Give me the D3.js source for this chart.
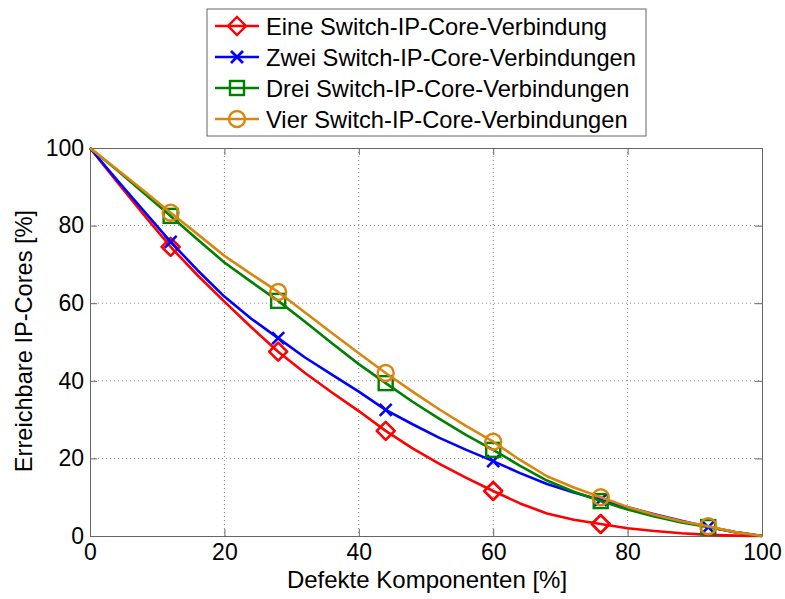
<!DOCTYPE html>
<meta charset="utf-8">
<style>
body { margin: 0; background: #fff; font-family: "Liberation Sans", Arial, Helvetica, sans-serif; }
.grid line { stroke: #888; stroke-width: 1; stroke-dasharray: 1,3; }
.axis path, .axis line { stroke: #666; }
.axis text { font-size: 23px; fill: #000; font-family: "Liberation Sans", Arial, sans-serif; }
.series path { fill: none; stroke-width: 2.6; stroke-linejoin: round; }
.legend text { font-size: 23.7px; }
</style>
<svg width="785" height="599"></svg>
<script src="https://d3js.org/d3.v7.min.js"></script>
<script>

// defect percentage samples
var defekt = [0, 4, 8, 12, 16, 20, 24, 28, 32, 36, 40, 44, 48, 52, 56, 60, 64, 68, 72, 76, 80, 84, 88, 92, 96, 100];

var eine  = [100, 91.3, 82.8, 74.5, 67.2, 60.4, 53.8, 47.5, 42.0, 37.0, 32.2, 27.1, 22.6, 18.6, 15.0, 11.6, 8.4, 5.8, 4.2, 3.1, 2.0, 1.3, 0.7, 0.3, 0.1, 0];
var zwei  = [100, 91.8, 83.8, 75.8, 68.5, 61.7, 56.0, 51.0, 46.0, 41.6, 37.2, 32.5, 28.8, 25.3, 22.2, 19.3, 16.2, 13.4, 11.2, 9.3, 7.4, 5.6, 3.9, 2.3, 1.0, 0];
var drei  = [100, 94.3, 88.4, 82.5, 76.4, 70.5, 65.5, 60.6, 55.2, 49.7, 44.3, 39.4, 34.6, 30.2, 26.0, 22.2, 18.1, 14.3, 11.4, 9.0, 6.8, 5.0, 3.5, 2.3, 1.0, 0];
var vier  = [100, 94.5, 89.0, 83.3, 77.8, 72.2, 67.5, 62.9, 57.6, 52.3, 47.1, 42.0, 37.2, 32.6, 28.3, 24.3, 19.6, 15.4, 12.5, 10.0, 7.5, 5.5, 3.8, 2.5, 1.0, 0];

// x positions carrying a marker
var markerXEine = [12, 28, 44, 60, 76];
var markerX     = [12, 28, 44, 60, 76, 92];

var labels = ["Eine Switch-IP-Core-Verbindung", "Zwei Switch-IP-Core-Verbindungen",
              "Drei Switch-IP-Core-Verbindungen", "Vier Switch-IP-Core-Verbindungen"];
var colors = ["#ff0000", "#0000ff", "#008000", "#d9860f"];
var symbols = ["diamond", "cross", "square", "circle"];

var xTicks = [0, 20, 40, 60, 80, 100];
var yTicks = [0, 20, 40, 60, 80, 100];

var series = [
  {name: labels[0], values: eine, markers: markerXEine, color: colors[0], sym: symbols[0]},
  {name: labels[1], values: zwei, markers: markerX, color: colors[1], sym: symbols[1]},
  {name: labels[2], values: drei, markers: markerX, color: colors[2], sym: symbols[2]},
  {name: labels[3], values: vier, markers: markerX, color: colors[3], sym: symbols[3]}
];

var svg = d3.select("svg"),
    margin = {top: 148, right: 23, bottom: 63, left: 90},
    width = +svg.attr("width") - margin.left - margin.right,
    height = +svg.attr("height") - margin.top - margin.bottom;

var x = d3.scaleLinear().domain([0, 100]).range([0, width]);
var y = d3.scaleLinear().domain([0, 100]).range([height, 0]);

var g = svg.append("g")
    .attr("transform", "translate(" + margin.left + "," + margin.top + ")");

// dotted grid
g.append("g").attr("class", "grid")
  .selectAll("line").data(xTicks.slice(1, -1)).enter().append("line")
  .attr("x1", d => x(d)).attr("x2", d => x(d)).attr("y1", 0).attr("y2", height);
g.append("g").attr("class", "grid")
  .selectAll("line").data(yTicks.slice(1, -1)).enter().append("line")
  .attr("y1", d => y(d)).attr("y2", d => y(d)).attr("x1", 0).attr("x2", width);

// axes (ticks pointing inward like matlab)
g.append("g").attr("class", "axis")
  .attr("transform", "translate(0," + height + ")")
  .call(d3.axisBottom(x).tickValues(xTicks).tickSizeInner(-7).tickSizeOuter(0).tickPadding(8));
g.append("g").attr("class", "axis")
  .call(d3.axisLeft(y).tickValues(yTicks).tickSizeInner(-7).tickSizeOuter(0).tickPadding(6));
g.append("g").attr("class", "axis")
  .attr("transform", "translate(" + width + ",0)")
  .call(d3.axisRight(y).tickValues(yTicks).tickSizeInner(-7).tickSizeOuter(0).tickFormat(""));
g.append("g").attr("class", "axis")
  .call(d3.axisTop(x).tickValues(xTicks).tickSizeInner(-7).tickSizeOuter(0).tickFormat(""));

svg.selectAll(".axis .domain").attr("stroke", "#666");

// axis labels
svg.append("text")
  .attr("x", margin.left + width / 2 + 1)
  .attr("y", 588)
  .attr("text-anchor", "middle")
  .style("font-size", "24px")
  .text("Defekte Komponenten [%]");

svg.append("text")
  .attr("transform", "translate(32," + (margin.top + height / 2 - 1) + ") rotate(-90)")
  .attr("text-anchor", "middle")
  .style("font-size", "23.6px")
  .text("Erreichbare IP-Cores [%]");

var line = d3.line()
  .x(function(d, i) { return x(defekt[i]); })
  .y(function(d) { return y(d); });

function drawMarker(sel, sym, color) {
  sel.attr("fill", "none").attr("stroke", color).attr("stroke-width", 2.4);
  if (sym == "diamond") {
    sel.append("path").attr("d", "M0,-9L9,0L0,9L-9,0Z");
  } else if (sym == "cross") {
    sel.append("path").attr("d", "M-6,-6L6,6M-6,6L6,-6").attr("stroke-width", 2.8);
  } else if (sym == "square") {
    sel.append("rect").attr("x", -7).attr("y", -7).attr("width", 14).attr("height", 14);
  } else {
    sel.append("circle").attr("r", 8);
  }
}

series.forEach(function(s) {
  var gs = g.append("g").attr("class", "series");
  gs.append("path").datum(s.values).attr("d", line).attr("stroke", s.color);
  gs.selectAll("g.mk")
    .data(s.markers)
    .enter().append("g").attr("class", "mk")
    .attr("transform", function(d) {
      var v = s.values[defekt.indexOf(d)];
      return "translate(" + x(d) + "," + y(v) + ")";
    })
    .each(function() { drawMarker(d3.select(this), s.sym, s.color); });
});

// legend
var lg = svg.append("g").attr("class", "legend").attr("transform", "translate(207,9)");
lg.append("rect").attr("width", 439).attr("height", 127)
  .attr("fill", "#fff").attr("stroke", "#666").attr("stroke-width", 1);

var item = lg.selectAll("g.item").data(series).enter().append("g")
  .attr("class", "item")
  .attr("transform", function(d, i) { return "translate(0," + (17 + i * 31) + ")"; });

item.append("line").attr("x1", 8).attr("x2", 52).attr("y1", 0).attr("y2", 0)
  .attr("stroke", d => d.color).attr("stroke-width", 2.6);
item.append("g").attr("transform", "translate(30,0)")
  .each(function(d) { drawMarker(d3.select(this), d.sym, d.color); });
item.append("text").attr("x", 59).attr("y", 8.5).text(d => d.name);

</script>
